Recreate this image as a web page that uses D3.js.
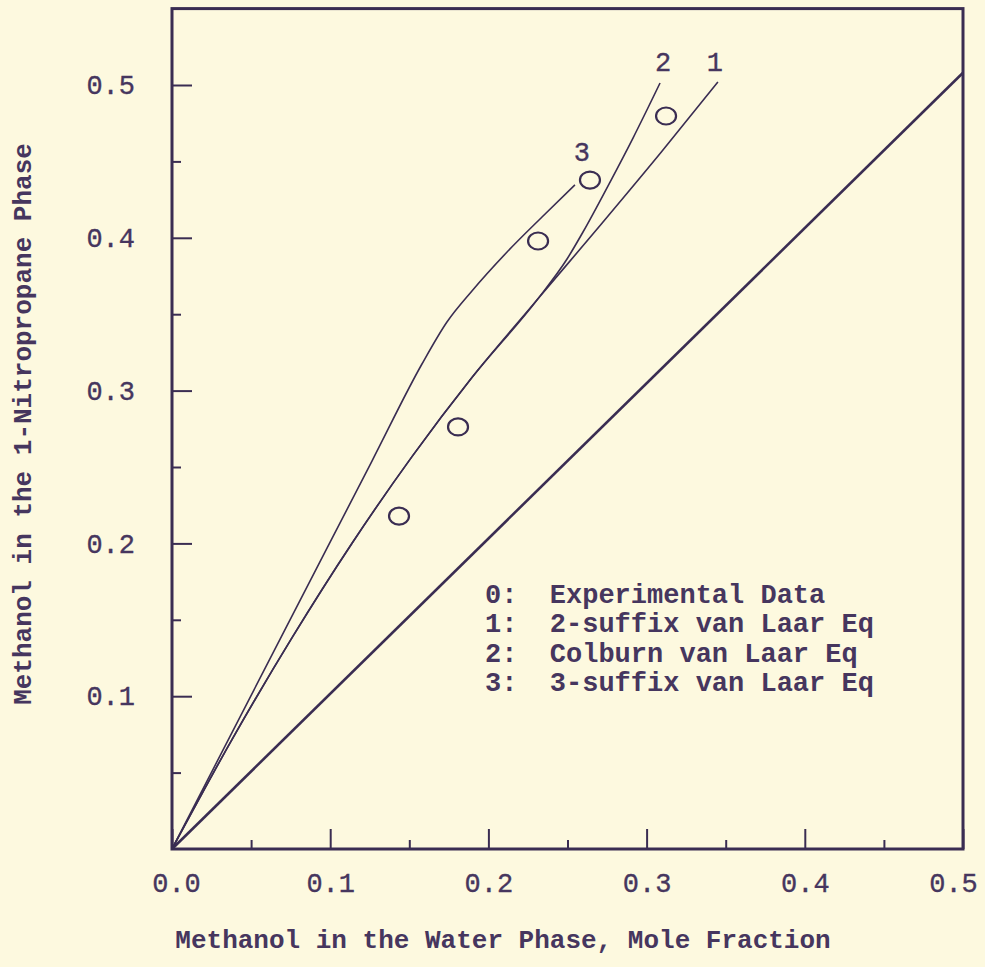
<!DOCTYPE html>
<html>
<head>
<meta charset="utf-8">
<title>Methanol distribution</title>
<script type="text/javascript" src="https://d3js.org/d3.v7.min.js"></script>
<style>
	body {
		margin: 0;
		background: #fdf9df;
	}
	svg text {
		font-family: "Liberation Mono", "DejaVu Sans Mono", monospace;
		fill: #46365e;
	}
	.tick text {
		font-size: 27px;
		stroke: #46365e;
		stroke-width: 0.35px;
	}
	.tick line {
		stroke: #3a2d52;
		stroke-width: 2px;
	}
	.axis_title, .legend {
		font-weight: bold;
		font-size: 26px;
	}
	.legend {
		font-size: 27px;
		white-space: pre;
	}
	.curve_label {
		font-size: 27px;
		stroke: #46365e;
		stroke-width: 0.35px;
	}
</style>
</head>
<body>
<svg id="chart"></svg>

<script type="text/javascript">

	var width = 985,
		height = 967;

	// tick values
	var xTicks = [0.0, 0.1, 0.2, 0.3, 0.4, 0.5];
	var yTicks = [0.1, 0.2, 0.3, 0.4, 0.5];
	var minorTicks = [0.05, 0.15, 0.25, 0.35, 0.45];

	// 0: experimental points (water phase x, nitropropane phase y)
	var expX = [0.1435, 0.1808, 0.2314, 0.2642, 0.3123];
	var expY = [0.2179, 0.2762, 0.3979, 0.4378, 0.4797];

	// 1: 2-suffix van Laar
	var c1X = [0, 0.0379, 0.0759, 0.1138, 0.1517, 0.1896, 0.2307, 0.2718, 0.3097, 0.3451];
	var c1Y = [0, 0.0716, 0.1383, 0.2001, 0.2568, 0.3086, 0.3593, 0.4095, 0.4566, 0.5020];

	// 2: Colburn van Laar (same as 1 at low x)
	var c2X = [0, 0.0379, 0.0759, 0.1138, 0.1517, 0.1896, 0.2307, 0.2497, 0.2598, 0.2769, 0.2914, 0.3085];
	var c2Y = [0, 0.0716, 0.1383, 0.2001, 0.2568, 0.3086, 0.3593, 0.3861, 0.4038, 0.4365, 0.4653, 0.5013];

	// 3: 3-suffix van Laar
	var c3X = [0, 0.0759, 0.1264, 0.1580, 0.1738, 0.1896, 0.2118, 0.2339, 0.2547];
	var c3Y = [0, 0.1525, 0.2539, 0.3174, 0.3449, 0.3652, 0.3907, 0.4136, 0.4346];

	// reference diagonal
	var diagX = [0, 0.5];
	var diagY = [0, 0.508];

	var legendLabels = [
		"0:  Experimental Data",
		"1:  2-suffix van Laar Eq",
		"2:  Colburn van Laar Eq",
		"3:  3-suffix van Laar Eq"
	];
	var curveNames = ["1", "2", "3"];

	var ink = "#3a2d52";

	var x = d3.scaleLinear().domain([0, 0.5]).range([172, 963]);
	var y = d3.scaleLinear().domain([0, 0.5]).range([849, 85]);

	var svg = d3.select("svg#chart")
		.attr("width", width)
		.attr("height", height);

	var zip = (xs, ys) => xs.map((v, i) => [v, ys[i]]);

	// frame
	svg.append("rect")
		.attr("x", x(0))
		.attr("y", y(0.55))
		.attr("width", x(0.5) - x(0))
		.attr("height", y(0) - y(0.55))
		.attr("fill", "none")
		.attr("stroke", ink)
		.attr("stroke-width", 3);

	// axes, ticks point inward
	var xAxis = svg.append("g")
		.attr("transform", "translate(0," + y(0) + ")")
		.call(d3.axisBottom(x).tickValues(xTicks).tickSize(-20).tickPadding(24)
			.tickFormat(d3.format(".1f")));
	xAxis.selectAll(".tick text").filter(d => d == 0.5).attr("dx", -10);
	xAxis.selectAll(".tick text").filter(d => d == 0).attr("dx", 4);

	svg.append("g")
		.attr("transform", "translate(0," + y(0) + ")")
		.call(d3.axisBottom(x).tickValues(minorTicks).tickSize(-9).tickFormat(""));

	svg.append("g")
		.attr("transform", "translate(" + x(0) + ",0)")
		.call(d3.axisLeft(y).tickValues(yTicks).tickSize(-20).tickPadding(37)
			.tickFormat(d3.format(".1f")));

	svg.append("g")
		.attr("transform", "translate(" + x(0) + ",0)")
		.call(d3.axisLeft(y).tickValues(minorTicks).tickSize(-9).tickFormat(""));

	svg.selectAll(".domain").remove();

	// lines
	var line = d3.line()
		.x(d => x(d[0]))
		.y(d => y(d[1]))
		.curve(d3.curveMonotoneX);

	svg.append("path")
		.datum(zip(diagX, diagY))
		.attr("d", line)
		.attr("fill", "none")
		.attr("stroke", ink)
		.attr("stroke-width", 2.6);

	var curves = [zip(c1X, c1Y), zip(c2X, c2Y), zip(c3X, c3Y)];

	svg.selectAll("path.curve")
		.data(curves).enter().append("path")
			.classed("curve", true)
			.attr("d", line)
			.attr("fill", "none")
			.attr("stroke", ink)
			.attr("stroke-width", 1.6);

	// curve numbers at the end of each curve
	var labelOffset = [[-3, -11], [3, -12], [7, -24]];
	svg.selectAll("text.curve_label")
		.data(curves).enter().append("text")
			.classed("curve_label", true)
			.attr("x", (d, i) => x(d[d.length - 1][0]) + labelOffset[i][0])
			.attr("y", (d, i) => y(d[d.length - 1][1]) + labelOffset[i][1])
			.attr("text-anchor", "middle")
			.text((d, i) => curveNames[i]);

	// experimental points
	svg.selectAll("ellipse")
		.data(zip(expX, expY)).enter().append("ellipse")
			.attr("cx", d => x(d[0]))
			.attr("cy", d => y(d[1]))
			.attr("rx", 10)
			.attr("ry", 8.5)
			.attr("fill", "none")
			.attr("stroke", ink)
			.attr("stroke-width", 2.2);

	// legend
	svg.selectAll("text.legend")
		.data(legendLabels).enter().append("text")
			.classed("legend", true)
			.attr("x", 485)
			.attr("y", (d, i) => 603 + i * 29.3)
			.text(d => d);

	// axis titles
	svg.append("text")
		.classed("axis_title", true)
		.attr("x", 503)
		.attr("y", 948)
		.attr("text-anchor", "middle")
		.text("Methanol in the Water Phase, Mole Fraction");

	svg.append("text")
		.classed("axis_title", true)
		.attr("transform", "translate(31,424) rotate(-90)")
		.attr("text-anchor", "middle")
		.text("Methanol in the 1-Nitropropane Phase");

</script>
</body>
</html>
